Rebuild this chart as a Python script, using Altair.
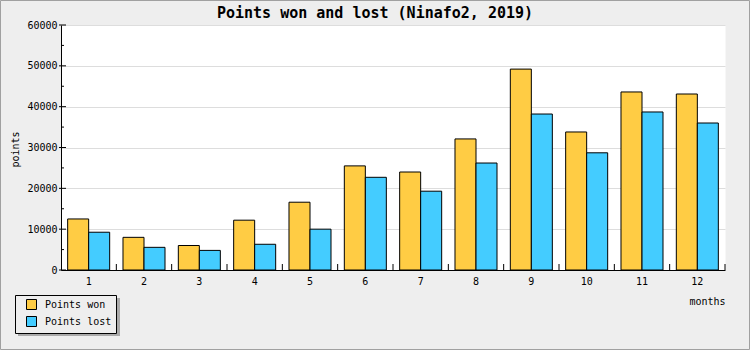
import altair as alt
import pandas as pd

months = list(range(1, 13))
points_won = [12500, 8000, 6000, 12200, 16600, 25500, 24000, 32100, 49200, 33800, 43600, 43100]
points_lost = [9250, 5550, 4800, 6300, 10000, 22700, 19300, 26200, 38200, 28700, 38700, 36000]
series_names = ["Points won", "Points lost"]
series_colors = ["#ffcc44", "#44ccff"]
major_ticks = [0, 10000, 20000, 30000, 40000, 50000, 60000]
minor_ticks = [5000, 15000, 25000, 35000, 45000, 55000]

FONT = "DejaVu Sans Mono"
W, H = 664, 245

rows = []
for m, w, l in zip(months, points_won, points_lost):
    rows.append({"month": m, "series": series_names[0], "points": w})
    rows.append({"month": m, "series": series_names[1], "points": l})
df = pd.DataFrame(rows)
df_months = pd.DataFrame({"month": months})
df_major = pd.DataFrame({"points": major_ticks})
df_minor = pd.DataFrame({"points": minor_ticks})
df_one = pd.DataFrame({"a": [0]})

xscale = alt.Scale(paddingInner=0, paddingOuter=0)
yscale = alt.Scale(domain=[0, 60000], nice=False)

bars = alt.Chart(df).mark_bar(stroke="black", strokeWidth=1).encode(
    x=alt.X("month:O", scale=xscale, axis=alt.Axis(
        labelAngle=0, ticks=False, tickSize=0, labelPadding=6, grid=False,
        domainColor="black", labelColor="black", labelFont=FONT, labelFontSize=10,
        title="months", titleFont=FONT, titleFontSize=10, titleFontWeight="normal",
        titleColor="black", titleAnchor="end", titleAlign="right", titleX=W, titleY=31,
        titleBaseline="middle")),
    xOffset=alt.XOffset("series:N", sort=series_names,
                        scale=alt.Scale(paddingInner=0, paddingOuter=0.317)),
    y=alt.Y("points:Q", scale=yscale, axis=alt.Axis(
        values=major_ticks, format="d", ticks=False, tickSize=0, labelPadding=4,
        grid=True, gridColor="#dddddd", domainColor="black", labelColor="black",
        labelFont=FONT, labelFontSize=10, title="points", titleFont=FONT,
        titleFontSize=10, titleFontWeight="normal", titleColor="black",
        titleAngle=270, titleX=-46, titleY=124, titleAlign="center",
        titleBaseline="middle")),
    color=alt.Color("series:N", sort=series_names,
                    scale=alt.Scale(domain=series_names, range=series_colors),
                    legend=alt.Legend(
                        title=None, orient="none", legendX=-46, legendY=270,
                        fillColor="#eeeeee", strokeColor="black", padding=4,
                        symbolOffset=7, symbolType="square", symbolSize=100,
                        symbolStrokeColor="black", symbolStrokeWidth=1,
                        labelFont=FONT, labelFontSize=10, labelColor="black",
                        labelOffset=8, rowPadding=2)),
)

x_ticks = alt.Chart(df_months).mark_rule(color="black", strokeWidth=1).encode(
    x=alt.X("month:O", bandPosition=1, scale=xscale),
    y=alt.value(H - 6), y2=alt.value(H),
)

y_major = alt.Chart(df_major).mark_rule(color="black", strokeWidth=1).encode(
    y=alt.Y("points:Q", scale=yscale), x=alt.value(-2), x2=alt.value(5),
)
y_minor = alt.Chart(df_minor).mark_rule(color="black", strokeWidth=1).encode(
    y=alt.Y("points:Q", scale=yscale), x=alt.value(0), x2=alt.value(3),
)

shadow = alt.Chart(df_one).mark_rect(color="#aaaaaa").encode(
    x=alt.value(-43), x2=alt.value(59), y=alt.value(273), y2=alt.value(311),
)

border = alt.Chart(df_one).mark_rect(fillOpacity=0, stroke="#a0a0a0", strokeWidth=1).encode(
    x=alt.value(-60.5), x2=alt.value(688.5), y=alt.value(-24.5), y2=alt.value(324.5),
)

chart = alt.layer(shadow, border, bars, x_ticks, y_major, y_minor).properties(
    width=W, height=H,
    title=alt.TitleParams("Points won and lost (Ninafo2, 2019)", font=FONT,
                          fontSize=15, fontWeight="bold", color="black",
                          anchor="middle", dx=-18, dy=41, baseline="bottom", offset=5),
    autosize=alt.AutoSizeParams(type="none"),
    padding={"left": 61, "top": 25, "right": 25, "bottom": 80},
    background="#eeeeee",
).configure_view(fill="white", stroke="transparent")

chart.save("out.html", embed_options={"renderer": "svg", "actions": False})
